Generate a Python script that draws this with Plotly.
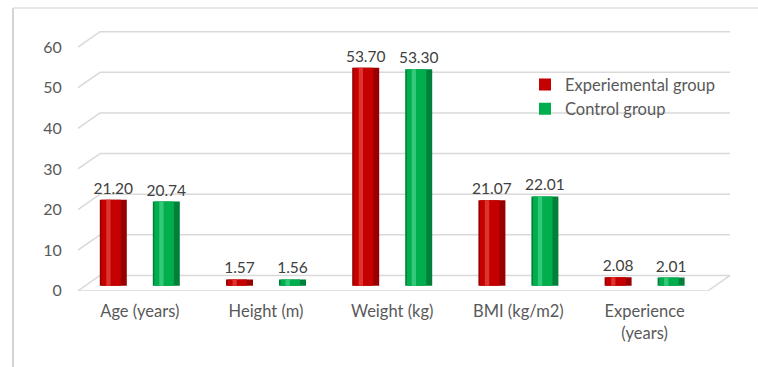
import plotly.graph_objects as go

categories = ["Age (years)", "Height (m)", "Weight (kg)", "BMI (kg/m2)", "Experience<br>(years)"]
experimental = [21.20, 1.57, 53.70, 21.07, 2.08]
control = [20.74, 1.56, 53.30, 22.01, 2.01]
series_names = ["Experiemental group", "Control group"]
y_ticks = [0, 10, 20, 30, 40, 50, 60]

REF_H = 367
W, H = 758, 377
SY = H / REF_H


def fy(p):
    return p * SY


PX_PER_UNIT = fy(4.05)
FLOOR_Y = fy(290)          # pixel y of tick label "0"
BAR_BASE_Y = fy(285)       # pixel y of bar bottoms
TOP_Y = fy(20)
X_LEFT, X_RIGHT = 76.7, 707.7
dom_w = X_RIGHT - X_LEFT


def xd(px):
    return (px - X_LEFT) / dom_w


ydom = [(H - FLOOR_Y) / H, (H - TOP_Y) / H]
bar_range = [-(FLOOR_Y - BAR_BASE_Y) / PX_PER_UNIT, (BAR_BASE_Y - TOP_Y) / PX_PER_UNIT]
lab_range = [0, (FLOOR_Y - TOP_Y) / PX_PER_UNIT]

FONT = "Lato, 'Open Sans', sans-serif"
GRID = "#D9D9D9"
TXT = "#595959"

bw = 27 / 126.2
half = 26.5 / 126.2

styles = [
    # dark, main, highlight
    ("#980000", "#C40000", "#DE3430"),
    ("#008038", "#00AE4E", "#34C978"),
]
centers = [-half, half]
data = [experimental, control]

fig = go.Figure()
for i in range(2):
    dark, main, hi = styles[i]
    c = centers[i]
    vals = data[i]
    fig.add_trace(go.Bar(
        x=categories, y=vals, width=bw, offset=c - bw / 2,
        marker=dict(color=dark, line=dict(width=0)),
        texttemplate="%{y:.2f}", textposition="outside", constraintext="none",
        textfont=dict(family=FONT, size=15.5, color="#404040"),
        cliponaxis=False, showlegend=False, hoverinfo="skip",
    ))
    w2 = bw * 0.72
    fig.add_trace(go.Bar(
        x=categories, y=vals, width=w2, offset=c - bw / 2 + bw * 0.06,
        marker=dict(color=main, line=dict(width=0)),
        name=series_names[i], legendgroup=series_names[i],
        textposition="none",
    ))
    w3 = bw * 0.16
    fig.add_trace(go.Bar(
        x=categories, y=vals, width=w3, offset=c - bw / 2 + bw * 0.24,
        marker=dict(color=hi, line=dict(width=0)),
        showlegend=False, hoverinfo="skip", textposition="none",
    ))

# invisible trace to keep the label axis alive
fig.add_trace(go.Scatter(x=[categories[0]], y=[0], yaxis="y2", mode="markers",
                         marker=dict(opacity=0), showlegend=False, hoverinfo="skip"))

shapes = []
depth = fy(15)
for t in y_ticks:
    shapes.append(dict(type="line", xref="x domain", yref="y2", ysizemode="pixel", yanchor=t,
                       x0=xd(100), x1=xd(730), y0=depth, y1=depth,
                       line=dict(color=GRID, width=1.5), layer="below"))
    shapes.append(dict(type="line", xref="x domain", yref="y2", ysizemode="pixel", yanchor=t,
                       x0=xd(78), x1=xd(100), y0=0, y1=depth,
                       line=dict(color=GRID, width=1.5), layer="below"))
# floor front edge and right edge
shapes.append(dict(type="line", xref="x domain", yref="y2", ysizemode="pixel", yanchor=0,
                   x0=xd(78), x1=xd(708), y0=0, y1=0,
                   line=dict(color=GRID, width=1.5), layer="below"))
shapes.append(dict(type="line", xref="x domain", yref="y2", ysizemode="pixel", yanchor=0,
                   x0=xd(708), x1=xd(730), y0=0, y1=depth,
                   line=dict(color=GRID, width=1.5), layer="below"))
# outer frame
shapes.append(dict(type="line", xref="paper", yref="paper", x0=13 / W, x1=13 / W,
                   y0=0, y1=1 - fy(8) / H, line=dict(color="#D4D4D4", width=2)))
shapes.append(dict(type="line", xref="paper", yref="paper", x0=13 / W, x1=1,
                   y0=1 - fy(8) / H, y1=1 - fy(8) / H, line=dict(color="#E0E0E0", width=1.5)))

fig.update_layout(
    width=W, height=H, autosize=False,
    margin=dict(l=0, r=0, t=0, b=0),
    paper_bgcolor="white", plot_bgcolor="rgba(0,0,0,0)",
    barmode="overlay",
    font=dict(family=FONT, size=16, color=TXT),
    xaxis=dict(domain=[X_LEFT / W, X_RIGHT / W], showgrid=False, zeroline=False, showline=False,
               ticks="", ticklabelstandoff=9,
               tickfont=dict(family=FONT, size=16.5, color=TXT)),
    yaxis=dict(domain=ydom, range=bar_range, showgrid=False, zeroline=False,
               showticklabels=False, ticks="", showline=False),
    yaxis2=dict(domain=ydom, overlaying="y", range=lab_range, showgrid=False,
                zeroline=False, showline=False, ticks="", tickvals=y_ticks,
                side="left", anchor="x", ticklabelstandoff=14,
                tickfont=dict(family=FONT, size=16, color=TXT)),
    legend=dict(x=525 / W, y=1 - fy(67) / H, xanchor="left", yanchor="top",
                bgcolor="rgba(0,0,0,0)", font=dict(family=FONT, size=16.5, color=TXT),
                tracegroupgap=0, itemwidth=30),
    shapes=shapes,
    showlegend=True,
)

fig.write_html("out.html", config={"responsive": False})
